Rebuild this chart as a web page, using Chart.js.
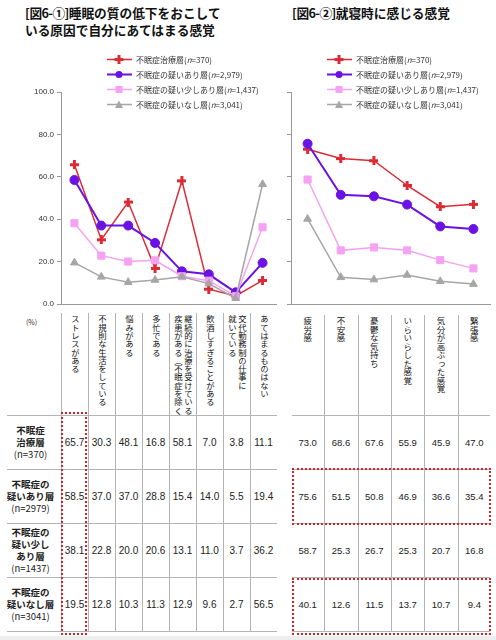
<!DOCTYPE html>
<html>
<head>
<meta charset="utf-8">
<script src="https://cdn.jsdelivr.net/npm/chart.js@4/dist/chart.umd.min.js"></script>
<style>
body { margin: 0; background: #fff; width: 496px; height: 640px; position: relative; overflow: hidden;
       font-family: "Noto Sans CJK JP", sans-serif; color: #222; }
.abs { position: absolute; }
.title { font-weight: 700; font-size: 12.7px; line-height: 17px; color: #111; white-space: nowrap; }
.title .br { letter-spacing: -0.6px; }
.legend { font-size: 8px; color: #333; }
.legend div { display: flex; align-items: center; height: 15px; white-space: nowrap; }
.legend svg { margin-right: 4px; }
.hline { position: absolute; height: 1px; background: #b4b4b4; }
.vline { position: absolute; width: 1px; background: #b4b4b4; }
.hd { position: absolute; display: flex; justify-content: center; overflow: hidden; }
.hd span { writing-mode: vertical-rl; color: #111; white-space: pre; }
.num { position: absolute; display: flex; align-items: center; justify-content: center;
       font-family: "Liberation Sans", sans-serif; color: #222; }
.rowlab { position: absolute; display: flex; flex-direction: column; align-items: center; justify-content: center;
          font-size: 9.5px; line-height: 12px; color: #222; }
.rowlab b { font-weight: 700; }
.box { position: absolute; border: 2px dotted #d2232a; box-sizing: border-box; }
</style>
</head>
<body>

<div class="abs title" style="left:25px; top:4px;"><span class="br">[&#8202;図6-①]</span>睡眠の質の低下をおこして<br>いる原因で自分にあてはまる感覚</div>
<div class="abs title" style="left:292px; top:4px;"><span class="br">[&#8202;図6-②]</span>就寝時に感じる感覚</div>

<canvas id="leftChart" class="abs" width="282" height="232" style="left:0; top:80px;"></canvas>
<canvas id="rightChart" class="abs" width="216" height="232" style="left:280px; top:80px;"></canvas>

<div id="legendLeft" class="abs legend" style="left:107px; top:52px;"></div>
<div id="legendRight" class="abs legend" style="left:327px; top:52px;"></div>

<div class="abs" style="left:26px; top:317px; font-size:7px; color:#333;">(%)</div>
<div id="tables"></div>
<div class="abs" style="left:0; top:636px; width:496px; height:4px; background:#eee;"></div>

<script>
// series (same four groups in both charts)
const seriesNames = ['不眠症治療層', '不眠症の疑いあり層', '不眠症の疑い少しあり層', '不眠症の疑いなし層'];
const legendN = ['370', '2,979', '1,437', '3,041'];
const rowLabels = [['不眠症', '治療層'], ['不眠症の', '疑いあり層'], ['不眠症の', '疑い少し', 'あり層'], ['不眠症の', '疑いなし層']];
const rowN = ['370', '2979', '1437', '3041'];

// figure 6-1: causes
const leftLabels = ['ストレスがある', '不規則な生活をしている', '悩みがある', '多忙である',
    '継続的に治療を受けている\n疾患がある（不眠症を除く）', '飲酒しすぎることがある',
    '交代勤務制の仕事に\n就いている', 'あてはまるものはない'];
const leftTreated   = [65.7, 30.3, 48.1, 16.8, 58.1, 7.0, 3.8, 11.1];
const leftSuspected = [58.5, 37.0, 37.0, 28.8, 15.4, 14.0, 5.5, 19.4];
const leftSlight    = [38.1, 22.8, 20.0, 20.6, 13.1, 11.0, 3.7, 36.2];
const leftNone      = [19.5, 12.8, 10.3, 11.3, 12.9, 9.6, 2.7, 56.5];

// figure 6-2: feelings at bedtime
const rightLabels = ['疲労感', '不安感', '憂鬱な気持ち', 'いらいらした感覚', '気分が高ぶった感覚', '緊張感'];
const rightTreated   = [73.0, 68.6, 67.6, 55.9, 45.9, 47.0];
const rightSuspected = [75.6, 51.5, 50.8, 46.9, 36.6, 35.4];
const rightSlight    = [58.7, 25.3, 26.7, 25.3, 20.7, 16.8];
const rightNone      = [40.1, 12.6, 11.5, 13.7, 10.7, 9.4];

const yTicks = [0, 20, 40, 60, 80, 100];

const colors = ['#dc2b35', '#6a12e4', '#f6a2f2', '#a6a6a6'];
const widths = [1.5, 2, 1.5, 1.5];

// red series uses a small plus marker
function plusMarker(color) {
    const c = document.createElement('canvas');
    c.width = 9; c.height = 9;
    const g = c.getContext('2d');
    g.fillStyle = color;
    g.fillRect(3, 0, 3, 9);
    g.fillRect(0, 3, 9, 3);
    return c;
}
const styles = [plusMarker(colors[0]), 'circle', 'rect', 'triangle'];
const radii = [4, 4.5, 5, 4.5];

function lineChart(id, labels, series, showLabels, yWidth, padRight) {
    return new Chart(document.getElementById(id), {
        type: 'line',
        data: {
            labels: labels,
            datasets: series.map((d, i) => ({
                label: seriesNames[i],
                data: d,
                borderColor: colors[i],
                backgroundColor: colors[i],
                borderWidth: widths[i],
                pointStyle: styles[i],
                pointRadius: radii[i],
                pointHoverRadius: radii[i],
                pointBorderWidth: 1,
                tension: 0,
                order: 3 - i
            }))
        },
        options: {
            responsive: false,
            animation: false,
            layout: { padding: { top: 12, right: padRight, bottom: 8, left: 0 } },
            plugins: { legend: { display: false }, tooltip: { enabled: false } },
            scales: {
                x: {
                    offset: true,
                    grid: { display: false },
                    border: { color: '#999' },
                    ticks: { display: false },
                    afterFit(s) { s.height = 0; }
                },
                y: {
                    min: 0, max: 100,
                    afterBuildTicks(s) { s.ticks = yTicks.map(v => ({ value: v })); },
                    grid: { drawOnChartArea: false, color: '#999', tickLength: 4 },
                    border: { color: '#999' },
                    ticks: {
                        display: showLabels,
                        padding: 3,
                        color: '#333',
                        font: { size: 8, family: 'Liberation Sans' },
                        callback: v => v.toFixed(1)
                    },
                    afterFit(s) { s.width = yWidth; }
                }
            }
        }
    });
}

lineChart('leftChart', leftLabels, [leftTreated, leftSuspected, leftSlight, leftNone], true, 61, 5);
lineChart('rightChart', rightLabels, [rightTreated, rightSuspected, rightSlight, rightNone], false, 11, 6);

// legends
function markerSvg(i) {
    const c = colors[i];
    let m = '';
    if (i === 0) m = `<rect x="10.5" y="2" width="3" height="9" fill="${c}"/><rect x="7.5" y="5" width="9" height="3" fill="${c}"/>`;
    if (i === 1) m = `<circle cx="12" cy="6.5" r="3.5" fill="${c}"/>`;
    if (i === 2) m = `<rect x="8.5" y="3" width="7" height="7" fill="${c}"/>`;
    if (i === 3) m = `<polygon points="12,2.5 16,10 8,10" fill="${c}"/>`;
    return `<svg width="25" height="13"><line x1="0" y1="6.5" x2="25" y2="6.5" stroke="${c}" stroke-width="${widths[i]}"/>${m}</svg>`;
}
['legendLeft', 'legendRight'].forEach(id => {
    document.getElementById(id).innerHTML = seriesNames.map((n, i) =>
        `<div>${markerSvg(i)}<span>${n}(<i>n</i>=${legendN[i]})</span></div>`).join('');
});

// data tables below the charts
const tables = document.getElementById('tables');
function add(html) { tables.insertAdjacentHTML('beforeend', html); }

function buildTable(x0, colW, headTop, labels, series, lineLeft, lineRight, headFont, numFont, leftEdgeLine) {
    const headBottom = 415, rowH = 54;
    // horizontal rules
    for (let r = 0; r <= 4; r++) {
        add(`<div class="hline" style="left:${lineLeft}px; top:${headBottom + r * rowH}px; width:${lineRight - lineLeft}px;"></div>`);
    }
    labels.forEach((lab, c) => {
        const x = x0 + c * colW;
        if (c > 0 || leftEdgeLine) {
            add(`<div class="vline" style="left:${Math.round(x)}px; top:${headTop}px; height:${headBottom + 4 * rowH - headTop + 1}px;"></div>`);
        }
        add(`<div class="hd" style="left:${x}px; top:${headTop + 2}px; width:${colW}px; height:${headBottom - headTop - 2}px;">` +
            `<span style="font-size:${headFont}px; line-height:${headFont + 1.5}px;">${lab}</span></div>`);
        series.forEach((vals, r) => {
            add(`<div class="num" style="left:${x}px; top:${headBottom + r * rowH}px; width:${colW}px; height:${rowH}px; font-size:${numFont}px;">${vals[c].toFixed(1)}</div>`);
        });
    });
}

buildTable(61, 27, 313, leftLabels, [leftTreated, leftSuspected, leftSlight, leftNone], 7, 277, 8.3, 10, true);
buildTable(291, 200 / 6, 315, rightLabels, [rightTreated, rightSuspected, rightSlight, rightNone], 292, 490, 8.5, 9.5, false);

rowLabels.forEach((lines, r) => {
    add(`<div class="rowlab" style="left:0; top:${415 + r * 54}px; width:61px; height:54px;">` +
        lines.map(l => `<b>${l}</b>`).join('') + `<span>(n=${rowN[r]})</span></div>`);
});

// dotted highlight boxes
add('<div class="box" style="left:61px; top:412px; width:26px; height:223px;"></div>');
add('<div class="box" style="left:292px; top:468px; width:199px; height:57px;"></div>');
add('<div class="box" style="left:292px; top:578px; width:199px; height:57px;"></div>');
</script>
</body>
</html>
